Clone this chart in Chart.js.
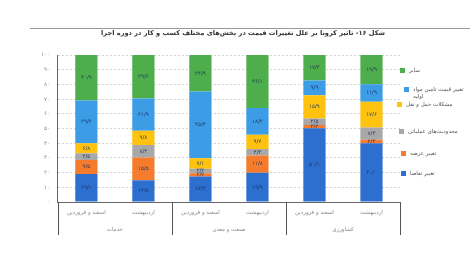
<!DOCTYPE html>
<html>
<head>
<meta charset="utf-8">
<script src="https://cdn.jsdelivr.net/npm/chart.js@4.4.1/dist/chart.umd.min.js"></script>
<style>
  html, body { margin: 0; padding: 0; background: #fff; }
  #wrap { position: relative; width: 472px; height: 255px; overflow: hidden; }
  #rule { position: absolute; left: 30px; top: 28px; width: 440px; height: 0; border-top: 1px solid #9a9a9a; }
  #title { position: absolute; right: 87px; top: 29px; direction: rtl; white-space: nowrap;
           font-family: 'DejaVu Sans', sans-serif; font-size: 6.6px; font-weight: bold; color: #333; line-height: 9px; }
  #legend { position: absolute; left: 0; top: 0; width: 472px; height: 255px; pointer-events: none;
            font-family: 'DejaVu Sans', sans-serif; font-size: 5.5px; color: #555; }
  .li { position: absolute; display: flex; align-items: flex-start; direction: ltr; }
  .sw { width: 5px; height: 5px; margin-right: 4px; margin-top: 0.5px; flex: none; }
  .tx { direction: rtl; text-align: left; line-height: 7px; }
</style>
</head>
<body>
<div id="wrap">
  <canvas id="c" width="472" height="255" dir="rtl"></canvas>
  <div id="rule"></div>
  <div id="title"></div>
  <div id="legend"></div>
</div>
<script>
// ---- data ----
const months = ['اسفند و فروردین', 'اردیبهشت', 'اسفند و فروردین', 'اردیبهشت', 'اسفند و فروردین', 'اردیبهشت'];
const groups = ['خدمات', 'صنعت و معدن', 'کشاورزی'];
const demand     = [19.1, 14.8, 17.3, 19.9, 50.1, 40.0];
const supply     = [9.5, 15.5, 2.2, 11.8, 2.2, 2.3];
const operations = [4.5, 8.4, 3.2, 4.3, 4.5, 8.3];
const transport  = [6.8, 9.8, 7.1, 9.7, 15.9, 17.6];
const materials  = [29.2, 21.9, 45.3, 18.2, 9.9, 11.9];
const other      = [30.9, 29.6, 24.9, 36.1, 17.4, 19.9];
const seriesNames = ['تغییر تقاضا', 'تغییر عرضه', 'محدودیت‌های عملیاتی', 'مشکلات حمل و نقل', 'تغییر قیمت تامین مواد اولیه', 'سایر'];
const yTicks = [0, 10, 20, 30, 40, 50, 60, 70, 80, 90, 100];
const title = 'شکل ۱۶- تاثیر کرونا بر علل تغییرات قیمت در بخش‌های مختلف کسب و کار در دوره اجرا';

// ---- styles ----
const colors = ['#2d6fcf', '#f47c2c', '#a8a8a8', '#fec20f', '#3c9ce6', '#4fae4c'];
const FONT = "'DejaVu Sans', sans-serif";

const faDigits = '۰۱۲۳۴۵۶۷۸۹';
function toFa(s) { return String(s).replace(/[0-9]/g, d => faDigits[+d]); }
function fmt(v) { return toFa(v.toFixed(1)).replace('.', '/'); }

document.getElementById('title').textContent = title;

const seriesData = [demand, supply, operations, transport, materials, other];

const datasets = seriesData.map((d, i) => ({
  label: seriesNames[i],
  data: d,
  backgroundColor: colors[i],
  borderWidth: 0,
  barPercentage: 0.39,
  categoryPercentage: 1.0,
  xAxisID: 'x',
  yAxisID: 'y'
}));

const valueLabels = {
  id: 'valueLabels',
  afterDatasetsDraw(chart) {
    const ctx = chart.ctx;
    ctx.save();
    ctx.font = '5.5px ' + FONT;
    ctx.fillStyle = 'rgba(22,42,92,0.85)';
    ctx.textAlign = 'center';
    ctx.textBaseline = 'middle';
    chart.data.datasets.forEach((ds, di) => {
      const meta = chart.getDatasetMeta(di);
      meta.data.forEach((bar, j) => {
        const p = bar.getProps(['x', 'y', 'base'], true);
        ctx.fillText(fmt(ds.data[j]), p.x, (p.y + p.base) / 2);
      });
    });
    ctx.restore();
  }
};

const separators = {
  id: 'separators',
  afterDraw(chart) {
    const x = chart.scales.x, x2 = chart.scales.x2;
    const ctx = chart.ctx;
    const step = x.getPixelForValue(1) - x.getPixelForValue(0);
    ctx.save();
    ctx.strokeStyle = '#555';
    ctx.lineWidth = 1;
    for (let g = 0; g <= groups.length; g++) {
      const idx = g * 2;
      const px = Math.round(x.getPixelForValue(Math.min(idx, months.length - 1)) + (idx >= months.length ? step / 2 : -step / 2)) + 0.5;
      ctx.beginPath();
      ctx.moveTo(px, chart.chartArea.bottom);
      ctx.lineTo(px, x2.bottom + 2);
      ctx.stroke();
    }
    ctx.restore();
  }
};

new Chart(document.getElementById('c'), {
  type: 'bar',
  data: { labels: months, datasets },
  plugins: [valueLabels, separators],
  options: {
    responsive: false,
    animation: false,
    layout: { padding: { left: 33, right: 72, top: 55, bottom: 22 } },
    plugins: {
      legend: { display: false },
      tooltip: { enabled: false },
      title: { display: false }
    },
    scales: {
      x: {
        stacked: true,
        grid: { display: false, drawTicks: false },
        border: { display: true, color: '#666', width: 1 },
        ticks: { color: '#888', font: { family: FONT, size: 5.5 }, padding: 7, maxRotation: 0, minRotation: 0, autoSkip: false },
        afterFit(s) { s.height = 14; }
      },
      x2: {
        type: 'category',
        labels: groups,
        position: 'bottom',
        offset: true,
        grid: { display: false, drawTicks: false },
        border: { display: false },
        ticks: { color: '#888', font: { family: FONT, size: 5.5 }, padding: 10, maxRotation: 0, minRotation: 0 },
        afterFit(s) { s.height = 17; }
      },
      y: {
        stacked: true,
        min: 0,
        max: 100,
        afterBuildTicks(scale) { scale.ticks = yTicks.map(v => ({ value: v })); },
        grid: { color: (ctx) => ctx.tick && ctx.tick.value === 0 ? 'rgba(0,0,0,0)' : '#d4d4d4', lineWidth: 1, drawTicks: false },
        border: { display: true, color: '#666', width: 1, dash: [2, 2] },
        ticks: { color: '#888', font: { family: FONT, size: 5.5 }, padding: 8, callback: v => toFa(v) }
      }
    }
  }
});

// ---- legend (HTML) ----
const legendTops = [67, 86, 101, 128, 150, 170];
const legendLefts = [400, 404, 397, 399, 401, 401];
const legendWidths = [60, 58, 60, 60, 60, 60];
const legendEl = document.getElementById('legend');
const order = [5, 4, 3, 2, 1, 0];
order.forEach((si, k) => {
  const item = document.createElement('div');
  item.className = 'li';
  item.style.left = legendLefts[k] + 'px';
  item.style.top = legendTops[k] + 'px';
  const sw = document.createElement('div');
  sw.className = 'sw';
  sw.style.background = colors[si];
  const tx = document.createElement('div');
  tx.className = 'tx';
  tx.style.maxWidth = legendWidths[k] + 'px';
  tx.textContent = seriesNames[si];
  item.appendChild(sw);
  item.appendChild(tx);
  legendEl.appendChild(item);
});
</script>
</body>
</html>
